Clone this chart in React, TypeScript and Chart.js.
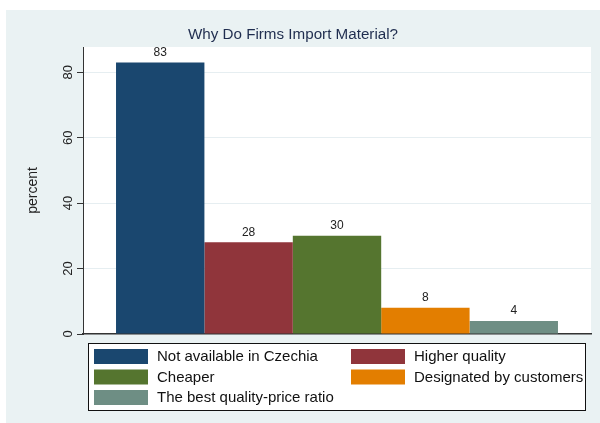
import React, { useEffect, useRef } from "react";
import { Chart, registerables } from "chart.js";

Chart.register(...registerables);

const chartTitle = "Why Do Firms Import Material?";
const yAxisTitle = "percent";
const categories = [""];
const seriesLabels = [
  "Not available in Czechia",
  "Higher quality",
  "Cheaper",
  "Designated by customers",
  "The best quality-price ratio",
];
const seriesValues = [83, 28, 30, 8, 4];
const seriesColors = ["#1a476f", "#90353b", "#55752f", "#e37e00", "#6e8e84"];
const yTicks = [0, 20, 40, 60, 80];

const FONT = "'Liberation Sans', Arial, sans-serif";

const decorPlugin = {
  id: "decor",
  beforeDraw(chart: any) {
    const { ctx, chartArea } = chart;
    ctx.save();
    ctx.fillStyle = "#ffffff";
    ctx.fillRect(0, 0, chart.width, chart.height);
    ctx.fillStyle = "#eaf2f3";
    ctx.fillRect(6, 10, chart.width - 6, chart.height - 10);
    ctx.fillStyle = "#ffffff";
    ctx.fillRect(chartArea.left, chartArea.top, chartArea.right - chartArea.left, chartArea.bottom - chartArea.top);
    ctx.restore();
  },
  afterDraw(chart: any) {
    const { ctx, chartArea } = chart;
    const yScale = chart.scales.y;
    ctx.save();
    // title
    ctx.fillStyle = "#1f2d4f";
    ctx.font = `15.2px ${FONT}`;
    ctx.textAlign = "center";
    ctx.textBaseline = "middle";
    ctx.fillText(chartTitle, 293, 35);
    // y tick labels rotated
    ctx.fillStyle = "#222222";
    ctx.font = `13px ${FONT}`;
    yTicks.forEach((v) => {
      const py = yScale.getPixelForValue(v);
      ctx.save();
      ctx.translate(chartArea.left - 15, py);
      ctx.rotate(-Math.PI / 2);
      ctx.textAlign = "center";
      ctx.textBaseline = "middle";
      ctx.fillText(String(v), 0, 0);
      ctx.restore();
    });
    // y title
    ctx.save();
    ctx.font = `14px ${FONT}`;
    ctx.fillStyle = "#222222";
    ctx.translate(33, (chartArea.top + chartArea.bottom) / 2);
    ctx.rotate(-Math.PI / 2);
    ctx.textAlign = "center";
    ctx.textBaseline = "middle";
    ctx.fillText(yAxisTitle, 0, 0);
    ctx.restore();
    // legend
    const lx = 88, ly = 343, lw = 498, lh = 68;
    ctx.fillStyle = "#ffffff";
    ctx.fillRect(lx, ly, lw, lh);
    ctx.strokeStyle = "#111111";
    ctx.lineWidth = 1;
    ctx.strokeRect(lx + 0.5, ly + 0.5, lw - 1, lh - 1);
    ctx.font = `15px ${FONT}`;
    ctx.textAlign = "left";
    ctx.textBaseline = "middle";
    chart.data.datasets.forEach((ds: any, i: number) => {
      const col = i % 2;
      const row = Math.floor(i / 2);
      const sx = 94 + col * 257;
      const sy = 349 + row * 20.5;
      ctx.fillStyle = ds.backgroundColor;
      ctx.fillRect(sx, sy, 54, 15);
      ctx.fillStyle = "#111111";
      ctx.fillText(ds.label, sx + 63, sy + 8);
    });
    ctx.restore();
  },
  afterDatasetsDraw(chart: any) {
    const { ctx } = chart;
    ctx.save();
    ctx.fillStyle = "#222222";
    ctx.font = `12px ${FONT}`;
    ctx.textAlign = "center";
    ctx.textBaseline = "middle";
    chart.data.datasets.forEach((ds: any, i: number) => {
      const meta = chart.getDatasetMeta(i);
      meta.data.forEach((bar: any, j: number) => {
        ctx.fillText(String(ds.data[j]), bar.x, bar.y - 10);
      });
    });
    ctx.restore();
  },
};

export default function App() {
  const ref = useRef<HTMLCanvasElement | null>(null);
  useEffect(() => {
    document.body.style.margin = "0";
    if (!ref.current) return;
    const chart = new Chart(ref.current, {
      type: "bar",
      data: {
        labels: categories,
        datasets: seriesLabels.map((label, i) => ({
          label,
          data: [seriesValues[i]],
          backgroundColor: seriesColors[i],
          borderWidth: 0,
          categoryPercentage: 0.87,
          barPercentage: 1,
        })),
      },
      options: {
        responsive: false,
        animation: false,
        layout: { padding: { left: 0, right: 9, top: 47, bottom: 89 } },
        plugins: {
          legend: { display: false },
          title: { display: false },
          tooltip: { enabled: false },
        },
        scales: {
          x: {
            type: "category",
            offset: true,
            ticks: { display: false },
            grid: { display: false },
            border: { display: true, color: "#333333", width: 1.5 },
            afterFit: (s: any) => {
              s.height = 0;
            },
          },
          y: {
            min: 0,
            max: 87.7,
            ticks: { display: false },
            grid: {
              color: "#e6eef1",
              lineWidth: 1,
              drawTicks: true,
              tickLength: 6,
              tickColor: "#333333",
            },
            border: { display: true, color: "#333333", width: 1 },
            afterBuildTicks: (s: any) => {
              s.ticks = yTicks.map((v) => ({ value: v }));
            },
            afterFit: (s: any) => {
              s.width = 83;
            },
          },
        },
      },
      plugins: [decorPlugin],
    });
    return () => chart.destroy();
  }, []);
  return <canvas ref={ref} width={600} height={423} style={{ display: "block" }} />;
}
